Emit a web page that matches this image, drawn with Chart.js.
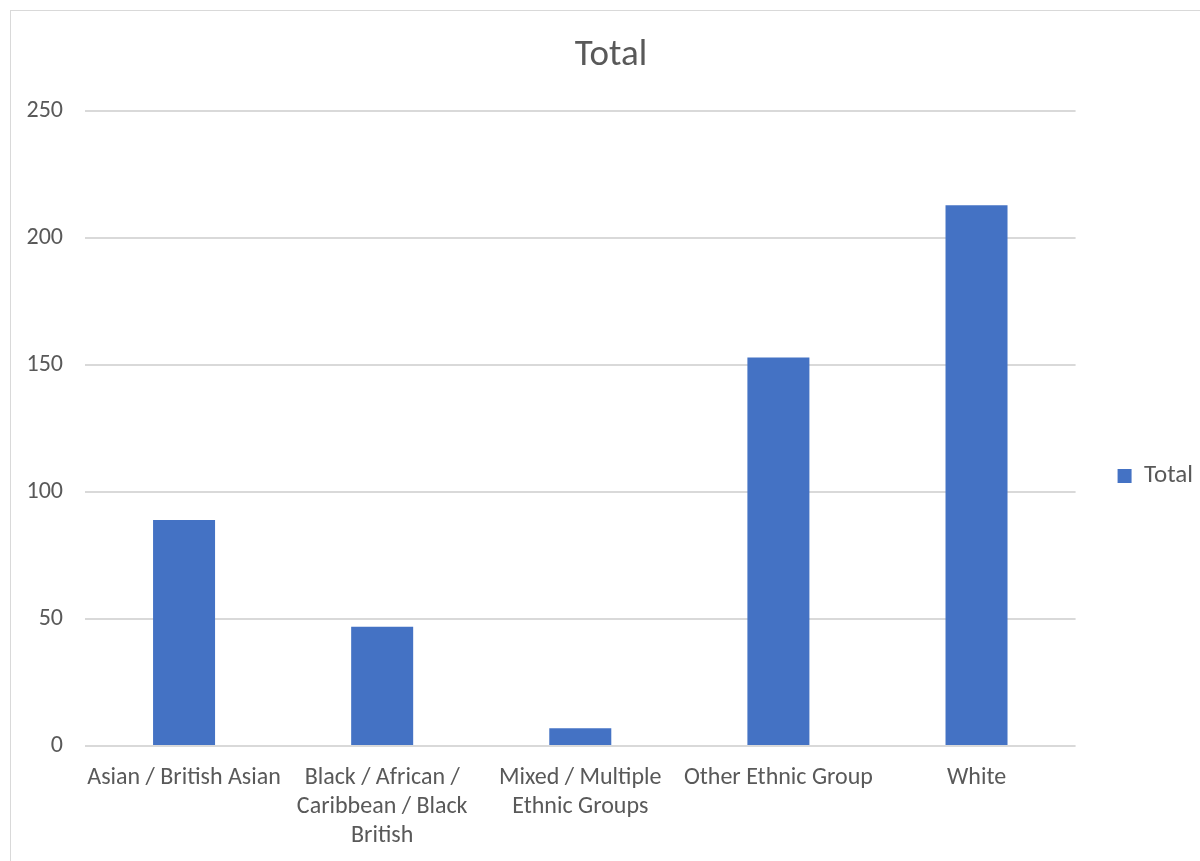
<!DOCTYPE html>
<html>
<head>
<meta charset="utf-8">
<title>Total</title>
<script src="https://cdn.jsdelivr.net/npm/chart.js@4.4.1/dist/chart.umd.min.js"></script>
<style>
  html, body { margin: 0; padding: 0; background: #ffffff; overflow: hidden; width: 1200px; height: 861px; }
  #frame { position: absolute; left: 10px; top: 10px; width: 1220px; height: 900px; border: 1px solid #d9d9d9; background: #ffffff; }
  #c { position: absolute; left: 0; top: 0; }
</style>
</head>
<body>
<div id="frame"><canvas id="c" width="1200" height="850"></canvas></div>
<script>
// Category labels (multi-line where the axis wraps them)
const categories = [
  ['Asian / British Asian'],
  ['Black / African /', 'Caribbean / Black', 'British'],
  ['Mixed / Multiple', 'Ethnic Groups'],
  ['Other Ethnic Group'],
  ['White']
];
// Series values
const seriesName = 'Total';
const totals = [89, 47, 7, 153, 213];
// Value-axis tick labels
const yTicks = [0, 50, 100, 150, 200, 250];

const FONT = "Carlito, Lato, 'Liberation Sans', sans-serif";
const TEXT = '#595959';
const GRID = '#d9d9d9';
const BAR = '#4472c4';
const PAD_RIGHT = 8;

// Legend sits a little below the plot's vertical middle (centred on the whole frame);
// the title is centred on the full canvas width rather than the padded one.
const frameAlign = {
  id: 'frameAlign',
  afterLayout(chart) {
    if (chart.legend) {
      chart.legend.top += 40;
      chart.legend.bottom += 40;
    }
    if (chart.titleBlock) {
      chart.titleBlock.right += PAD_RIGHT;
      chart.titleBlock.width += PAD_RIGHT;
    }
  }
};

new Chart(document.getElementById('c'), {
  type: 'bar',
  data: {
    labels: categories,
    datasets: [{
      label: seriesName,
      data: totals,
      backgroundColor: BAR,
      borderWidth: 0,
      categoryPercentage: 1.0,
      barPercentage: 0.313
    }]
  },
  plugins: [frameAlign],
  options: {
    responsive: false,
    animation: false,
    layout: { padding: { left: 0, top: 0, right: PAD_RIGHT, bottom: 0 } },
    plugins: {
      title: {
        display: true,
        text: seriesName,
        color: TEXT,
        font: { family: FONT, size: 37, weight: 'normal' },
        padding: { top: 23, bottom: 33 }
      },
      legend: {
        display: true,
        position: 'right',
        labels: {
          color: TEXT,
          font: { family: FONT, size: 25 },
          boxWidth: 14,
          boxHeight: 14,
          padding: 42
        }
      },
      tooltip: { enabled: false }
    },
    scales: {
      x: {
        grid: { display: false, drawTicks: false },
        border: { display: false },
        ticks: {
          color: TEXT,
          font: { family: FONT, size: 24, lineHeight: 1.2 },
          maxRotation: 0,
          minRotation: 0,
          autoSkip: false,
          padding: 18
        },
        afterFit: (scale) => { scale.height = 115; }
      },
      y: {
        min: yTicks[0],
        max: yTicks[yTicks.length - 1],
        afterBuildTicks: (scale) => { scale.ticks = yTicks.map(v => ({ value: v })); },
        grid: { color: GRID, lineWidth: 2, drawTicks: false },
        border: { display: false },
        ticks: {
          color: TEXT,
          font: { family: FONT, size: 24 },
          padding: 22
        },
        afterFit: (scale) => { scale.width = 74; }
      }
    }
  }
});
</script>
</body>
</html>
